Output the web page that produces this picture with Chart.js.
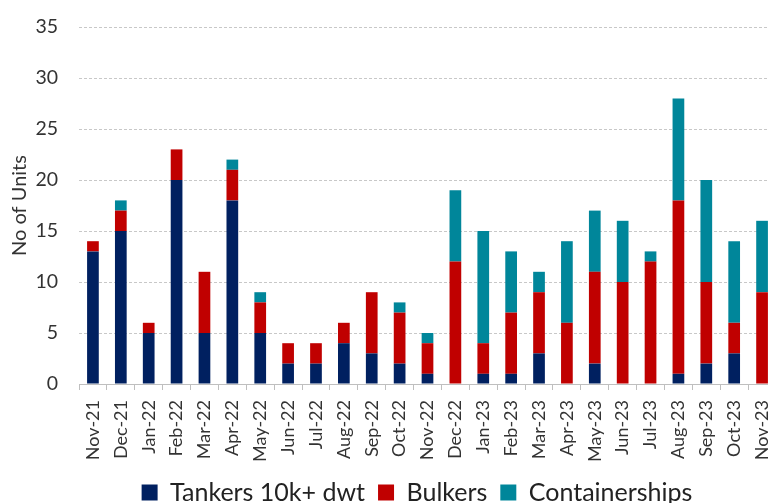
<!DOCTYPE html>
<html>
<head>
<meta charset="utf-8">
<script src="https://cdn.jsdelivr.net/npm/chart.js@4"></script>
<style>
    html, body { margin: 0; padding: 0; background: #fff; overflow: hidden; }
    #wrap { width: 840px; height: 503px; }
</style>
</head>
<body>
<div id="wrap"><canvas id="deliveriesChart"></canvas></div>
<script>
const months = ['Nov-21', 'Dec-21', 'Jan-22', 'Feb-22', 'Mar-22', 'Apr-22', 'May-22', 'Jun-22', 'Jul-22',
    'Aug-22', 'Sep-22', 'Oct-22', 'Nov-22', 'Dec-22', 'Jan-23', 'Feb-23', 'Mar-23', 'Apr-23', 'May-23',
    'Jun-23', 'Jul-23', 'Aug-23', 'Sep-23', 'Oct-23', 'Nov-23'];
const tankers = [13, 15, 5, 20, 5, 18, 5, 2, 2, 4, 3, 2, 1, 0, 1, 1, 3, 0, 2, 0, 0, 1, 2, 3, 0];
const bulkers = [1, 2, 1, 3, 6, 3, 3, 2, 2, 2, 6, 5, 3, 12, 3, 6, 6, 6, 9, 10, 12, 17, 8, 3, 9];
const containerships = [0, 1, 0, 0, 0, 1, 1, 0, 0, 0, 0, 1, 1, 7, 11, 6, 2, 8, 6, 6, 1, 10, 10, 8, 7];
const yTicks = [0, 5, 10, 15, 20, 25, 30, 35];

const FONT = 'Lato, "Noto Sans", sans-serif';

// the original legend sits right of the canvas centre and partly below the bottom edge
const legendShift = {
    id: 'legendShift',
    afterLayout(chart) {
        const lg = chart.legend;
        lg.left += 29;
        lg.right += 29;
        lg.top += 5;
        lg.bottom += 5;
    }
};

const ctx = document.getElementById('deliveriesChart').getContext('2d');
const deliveriesChart = new Chart(ctx, {
    type: 'bar',
    data: {
        labels: months,
        datasets: [
            { label: 'Tankers 10k+ dwt', data: tankers, backgroundColor: '#002060' },
            { label: 'Bulkers', data: bulkers, backgroundColor: '#C00000' },
            { label: 'Containerships', data: containerships, backgroundColor: '#00869A' }
        ]
    },
    options: {
        responsive: true,
        maintainAspectRatio: false,
        animation: false,
        layout: { padding: { top: 27, right: 64, left: 0, bottom: 0 } },
        datasets: { bar: { barPercentage: 0.42, categoryPercentage: 1 } },
        plugins: {
            tooltip: { enabled: false },
            legend: {
                position: 'bottom',
                maxHeight: 41,
                labels: {
                    font: { family: FONT, size: 25 },
                    color: '#222',
                    boxWidth: 16,
                    boxHeight: 16,
                    padding: 13
                }
            }
        },
        scales: {
            x: {
                stacked: true,
                grid: { drawOnChartArea: false, drawTicks: true, tickLength: 6, color: '#bfbfbf' },
                border: { color: '#bfbfbf' },
                ticks: {
                    autoSkip: false,
                    minRotation: 90,
                    maxRotation: 90,
                    padding: 10,
                    color: '#333',
                    font: { family: FONT, size: 18 }
                },
                afterFit(scale) { scale.height = 78; }
            },
            y: {
                stacked: true,
                min: 0,
                max: 35,
                afterBuildTicks(scale) { scale.ticks = yTicks.map(v => ({ value: v })); },
                // invisible tick marks give the gap between labels and plot
                grid: { drawTicks: true, tickLength: 21, tickColor: 'rgba(0,0,0,0)', color: '#c8c8c8', lineWidth: 1 },
                border: { display: false, dash: [3, 2] },
                ticks: {
                    padding: 0,
                    color: '#333',
                    font: { family: FONT, size: 19.5 }
                },
                title: {
                    display: true,
                    text: 'No of Units',
                    color: '#333',
                    font: { family: FONT, size: 20 },
                    padding: { top: 8, bottom: 0 }
                },
                afterFit(scale) { scale.width = 79; }
            }
        }
    },
    plugins: [legendShift]
});
</script>
</body>
</html>
